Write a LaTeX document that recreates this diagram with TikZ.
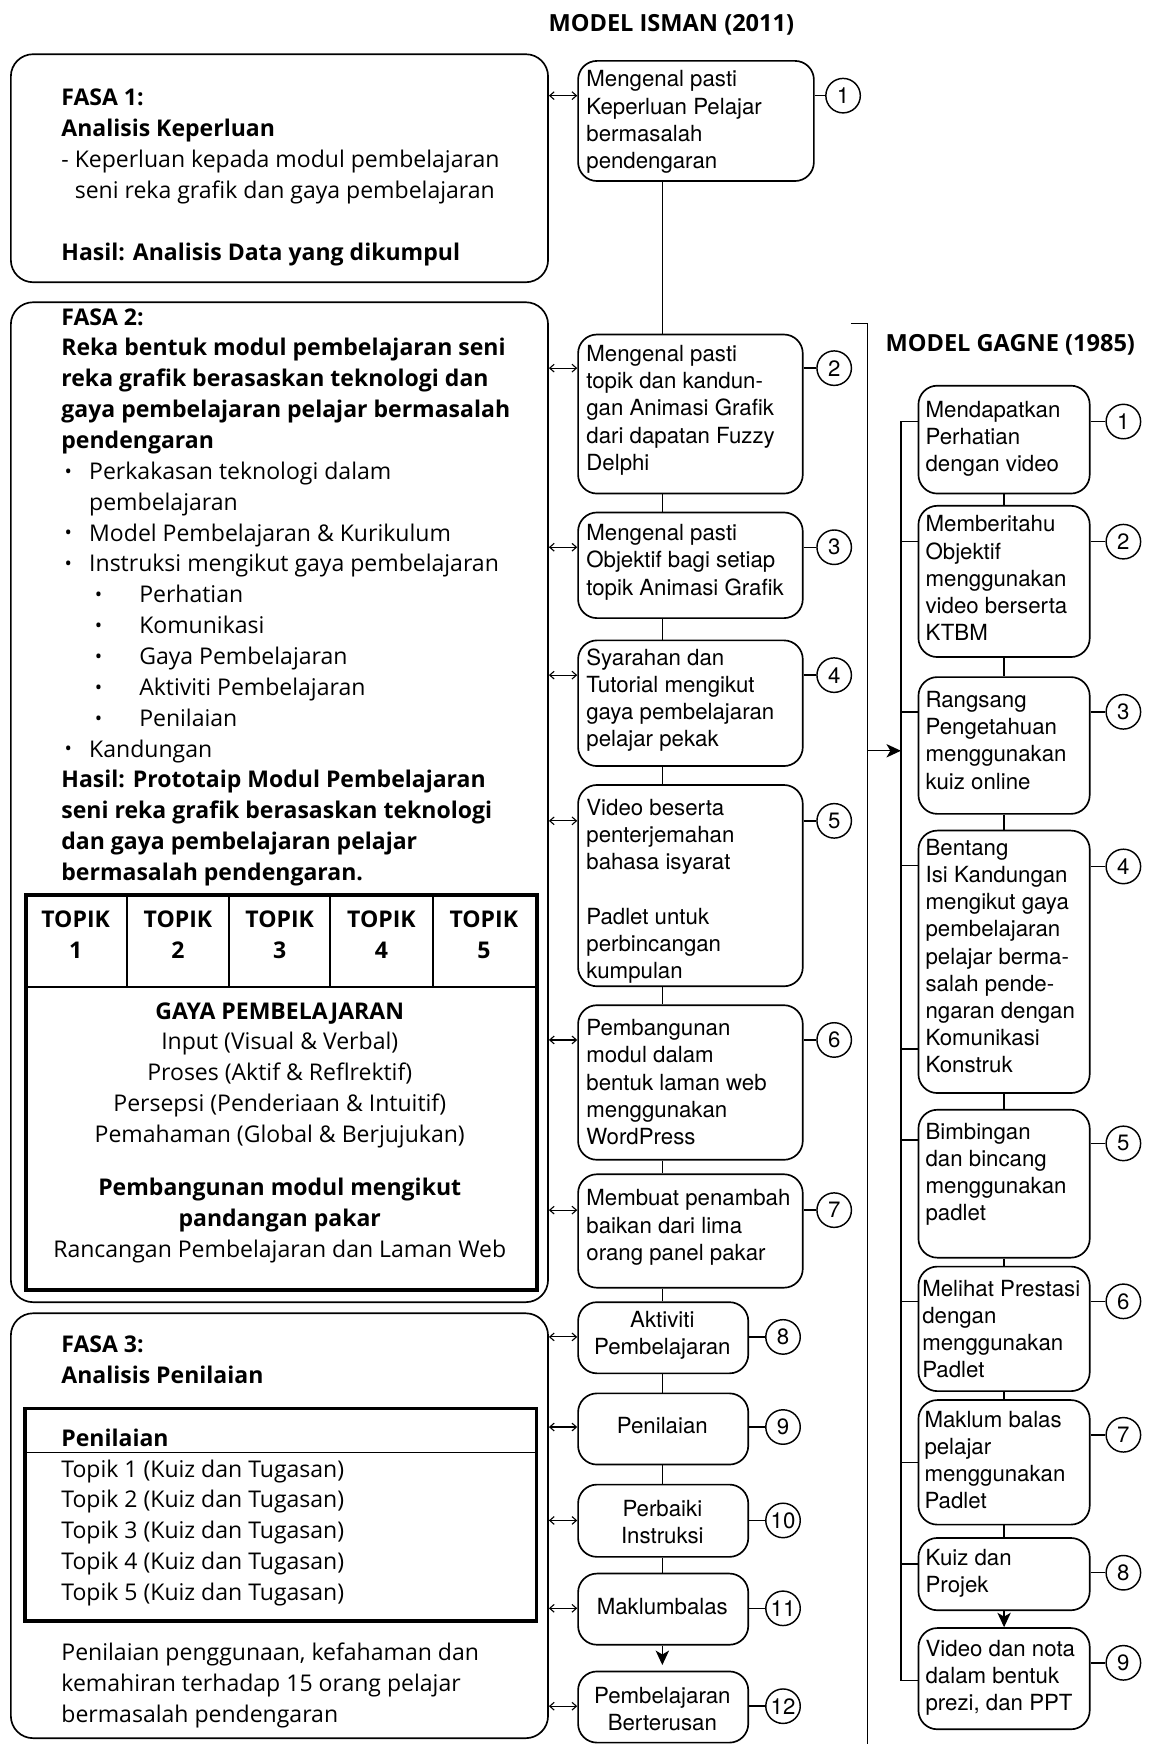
\documentclass[tikz,border=0pt]{standalone}
\usepackage{fontspec}
\usepackage{graphicx}
\setmainfont{TeX Gyre Heros}
\newfontfamily\humsans{Open Sans}
\usetikzlibrary{arrows.meta}

% invisible strut that fixes the first baseline 20pt below a node's top
\newcommand\fr{\rule{0pt}{20pt}}
% small list bullet and the indents of the phase-2 outline
\newcommand\dotmark{\raisebox{0.1ex}{\scalebox{0.85}{•}}}
\newcommand\lvone{\hspace*{3pt}\makebox[22pt][l]{\dotmark}}
\newcommand\lvtwo{\hspace*{30pt}\makebox[40pt][l]{\dotmark}}
\newcommand\lvcont{\hspace*{25pt}}

\begin{document}
\begin{tikzpicture}[x=1pt,y=-1pt,
  phase/.style={draw, line width=1.5pt, rounded corners=20pt, minimum width=483pt,
    anchor=north west, inner sep=0pt},
  stepbox/.style={draw, line width=1.5pt, rounded corners=17pt, anchor=north west, inner sep=0pt},
  num/.style={circle, draw, line width=1.3pt, minimum size=31pt, inner sep=0pt,
    font=\fontsize{20}{20}\selectfont},
  bt/.style={anchor=north west, inner sep=0pt, align=left, font=\fontsize{20}{24.4}\selectfont},
  btc/.style={anchor=north, inner sep=0pt, align=center, font=\fontsize{20}{24.4}\selectfont},
  lt/.style={anchor=north west, inner sep=0pt, align=left,
    font=\humsans\fontsize{20.7}{27.75}\selectfont},
  ltc/.style={anchor=north, inner sep=0pt, align=center,
    font=\humsans\fontsize{20.7}{27.75}\selectfont},
  ttl/.style={anchor=base west, inner sep=0pt, font=\humsans\bfseries\fontsize{21.2}{26}\selectfont},
  link/.style={line width=1.3pt},
  dbl/.style={line width=1pt, {Straight Barb[length=4pt,width=7pt]}-{Straight Barb[length=4pt,width=7pt]}},
  flow/.style={line width=1.3pt, -{Stealth[length=13pt,width=12pt,inset=3.5pt]}},
]
\useasboundingbox (0,0) rectangle (1038,1568);

% ---------------- titles ----------------
\node[ttl] (tisman) at (493,28) {MODEL ISMAN (2011)};
\node[ttl] (tgagne) at (796,316) {MODEL GAGNE (1985)};

% ---------------- phase boxes ----------------
\node[phase, minimum height=205pt] (f1) at (9,48) {};
\node[phase, minimum height=899pt] (f2) at (9,271) {};
\node[phase, minimum height=382pt] (f3) at (9,1180) {};

\node[lt] (f1txt) at (55,75) {\fr\textbf{FASA 1:}\\
  \textbf{Analisis Keperluan}\\
  - Keperluan kepada modul pembelajaran\\
  \hphantom{- }seni reka grafik dan gaya pembelajaran\\[27.75pt]
  \textbf{Hasil: Analisis Data yang dikumpul}};

\node[lt] (f2txt) at (55,272) {\fr\textbf{FASA 2:}\\
  \textbf{Reka bentuk modul pembelajaran seni}\\
  \textbf{reka grafik berasaskan teknologi dan}\\
  \textbf{gaya pembelajaran pelajar bermasalah}\\
  \textbf{pendengaran}\\
  \lvone Perkakasan teknologi dalam\\
  \lvcont pembelajaran\\
  \lvone Model Pembelajaran \& Kurikulum\\
  \lvone Instruksi mengikut gaya pembelajaran\\
  \lvtwo Perhatian\\
  \lvtwo Komunikasi\\
  \lvtwo Gaya Pembelajaran\\
  \lvtwo Aktiviti Pembelajaran\\
  \lvtwo Penilaian\\
  \lvone Kandungan\\
  \textbf{Hasil: Prototaip Modul Pembelajaran}\\
  \textbf{seni reka grafik berasaskan teknologi}\\
  \textbf{dan gaya pembelajaran pelajar}\\
  \textbf{bermasalah pendengaran.}};

% topic / learning-style table
\node[draw, line width=3.5pt, minimum width=459pt, minimum height=355pt,
  anchor=north west, inner sep=0pt] (tab) at (22,803) {};
\draw[line width=1.8pt] (tab.west |- 0,887) -- (tab.east |- 0,887);
\foreach \cx in {114,206,297,389}
  \draw[line width=1.8pt] (\cx,803) -- (\cx,887);
\foreach \cx/\k in {68/1,160/2,251.5/3,343/4,435/5}
  \node[ltc, font=\humsans\bfseries\fontsize{20.7}{27.75}\selectfont] (topik\k) at (\cx,814) {\fr TOPIK\\\k};
\node[ltc] (gaya) at (251.5,896) {\fr\textbf{GAYA PEMBELAJARAN}\\
  Input (Visual \& Verbal)\\
  Proses (Aktif \& Reflrektif)\\
  Persepsi (Penderiaan \& Intuitif)\\
  Pemahaman (Global \& Berjujukan)\\[20.25pt]
  \textbf{Pembangunan modul mengikut}\\
  \textbf{pandangan pakar}\\
  Rancangan Pembelajaran dan Laman Web};

\node[lt] (f3txt) at (55,1196) {\fr\textbf{FASA 3:}\\\textbf{Analisis Penilaian}};
\node[draw, line width=3pt, minimum width=460pt, minimum height=191pt,
  anchor=north west, inner sep=0pt] (pen) at (21,1265) {};
\draw[line width=1.5pt] (pen.west |- 0,1306) -- (pen.east |- 0,1306);
\node[lt] (pentxt) at (55,1280) {\fr\textbf{Penilaian}\\
  Topik 1 (Kuiz dan Tugasan)\\
  Topik 2 (Kuiz dan Tugasan)\\
  Topik 3 (Kuiz dan Tugasan)\\
  Topik 4 (Kuiz dan Tugasan)\\
  Topik 5 (Kuiz dan Tugasan)};
\node[lt] (f3end) at (55,1473) {\fr Penilaian penggunaan, kefahaman dan\\
  kemahiran terhadap 15 orang pelajar\\
  bermasalah pendengaran};

% ---------------- Isman steps ----------------
\node[stepbox, minimum width=212pt, minimum height=108pt] (i1) at (519,54) {};
\node[stepbox, minimum width=202pt, minimum height=143pt] (i2) at (519,300) {};
\node[stepbox, minimum width=202pt, minimum height=95pt] (i3) at (519,460) {};
\node[stepbox, minimum width=202pt, minimum height=113pt] (i4) at (519,575) {};
\node[stepbox, minimum width=202pt, minimum height=181pt] (i5) at (519,705) {};
\node[stepbox, minimum width=202pt, minimum height=139pt] (i6) at (519,903) {};
\node[stepbox, minimum width=202pt, minimum height=102pt] (i7) at (519,1055) {};
\node[stepbox, minimum width=153pt, minimum height=64pt] (i8) at (519,1170) {};
\node[stepbox, minimum width=153pt, minimum height=64pt] (i9) at (519,1252) {};
\node[stepbox, minimum width=153pt, minimum height=65pt] (i10) at (519,1334) {};
\node[stepbox, minimum width=153pt, minimum height=64pt] (i11) at (519,1414) {};
\node[stepbox, minimum width=153pt, minimum height=64pt] (i12) at (519,1502) {};

\node[bt] (it1) at (527,58) {\fr Mengenal pasti\\Keperluan Pelajar\\bermasalah\\pendengaran};
\node[bt] (it2) at (527,305) {\fr Mengenal pasti\\topik dan kandun-\\gan Animasi Grafik\\dari dapatan Fuzzy\\Delphi};
\node[bt] (it3) at (527,466) {\fr Mengenal pasti\\Objektif bagi setiap\\topik Animasi Grafik};
\node[bt] (it4) at (527,578) {\fr Syarahan dan\\Tutorial mengikut\\gaya pembelajaran\\pelajar pekak};
\node[bt] (it5) at (527,713) {\fr Video beserta\\penterjemahan\\bahasa isyarat\\[24.4pt]Padlet untuk\\perbincangan\\kumpulan};
\node[bt] (it6) at (527,911) {\fr Pembangunan\\modul dalam\\bentuk laman web\\menggunakan\\WordPress};
\node[bt] (it7) at (527,1064) {\fr Membuat penambah\\baikan dari lima\\orang panel pakar};
\node[btc] (it8) at (595.5,1173) {\fr Aktiviti\\Pembelajaran};
\node[btc] (it9) at (595.5,1269) {\fr Penilaian};
\node[btc] (it10) at (595.5,1343) {\fr Perbaiki\\Instruksi};
\node[btc] (it11) at (595.5,1431) {\fr Maklumbalas};
\node[btc] (it12) at (595.5,1511) {\fr Pembelajaran\\Berterusan};

\node[num] (ic1) at (758,86) {1};
\node[num] (ic2) at (750,331) {2};
\node[num] (ic3) at (750,492) {3};
\node[num] (ic4) at (750,607) {4};
\node[num] (ic5) at (750,738) {5};
\node[num] (ic6) at (750,935) {6};
\node[num] (ic7) at (750,1088) {7};
\node[num] (ic8) at (704,1202) {8};
\node[num] (ic9) at (704,1283) {9};
\node[num] (ic10) at (704,1367) {10};
\node[num] (ic11) at (704,1446) {11};
\node[num] (ic12) at (704,1534) {12};

\foreach \k in {1,...,12}
  \draw[link] (i\k.east |- ic\k) -- (ic\k);

% links back to the phases
\draw[dbl] (f1.east |- ic1) -- (i1.west |- ic1);
\foreach \k in {2,...,7}
  \draw[dbl] (f2.east |- ic\k) -- (i\k.west |- ic\k);
\foreach \k in {8,...,12}
  \draw[dbl] (f3.east |- ic\k) -- (i\k.west |- ic\k);

% Isman spine
\coordinate (ispine) at (595.5,0);
\foreach \a/\b in {i1/i2,i2/i3,i3/i4,i4/i5,i5/i6,i6/i7,i7/i8,i8/i9,i9/i10,i10/i11}
  \draw[link] (\a.south -| ispine) -- (\b.north -| ispine);
\draw[flow, shorten >=5pt] (i11.south -| ispine) -- (i12.north -| ispine);

% ---------------- Gagne events ----------------
\node[stepbox, minimum width=154pt, minimum height=97pt] (g1) at (825,346) {};
\node[stepbox, minimum width=154pt, minimum height=136pt] (g2) at (825,454) {};
\node[stepbox, minimum width=154pt, minimum height=123pt] (g3) at (825,608) {};
\node[stepbox, minimum width=154pt, minimum height=236pt] (g4) at (825,746) {};
\node[stepbox, minimum width=154pt, minimum height=133pt] (g5) at (825,997) {};
\node[stepbox, minimum width=154pt, minimum height=112pt] (g6) at (825,1138) {};
\node[stepbox, minimum width=154pt, minimum height=112pt] (g7) at (825,1258) {};
\node[stepbox, minimum width=154pt, minimum height=65pt] (g8) at (825,1382) {};
\node[stepbox, minimum width=154pt, minimum height=91pt] (g9) at (825,1463) {};

\node[bt] (gt1) at (832,355) {\fr Mendapatkan\\Perhatian\\dengan video};
\node[bt] (gt2) at (832,458) {\fr Memberitahu\\Objektif\\menggunakan\\video berserta\\KTBM};
\node[bt] (gt3) at (832,616) {\fr Rangsang\\Pengetahuan\\menggunakan\\kuiz online};
\node[bt] (gt4) at (832,749) {\fr Bentang\\Isi Kandungan\\mengikut gaya\\pembelajaran\\pelajar berma-\\salah pende-\\ngaran dengan\\Komunikasi\\Konstruk};
\node[bt] (gt5) at (832,1004) {\fr Bimbingan\\dan bincang\\menggunakan\\padlet};
\node[bt] (gt6) at (829,1145) {\fr Melihat Prestasi\\dengan\\menggunakan\\Padlet};
\node[bt] (gt7) at (831,1263) {\fr Maklum balas\\pelajar\\menggunakan\\Padlet};
\node[bt] (gt8) at (832,1387) {\fr Kuiz dan\\Projek};
\node[bt] (gt9) at (832,1469) {\fr Video dan nota\\dalam bentuk\\prezi, dan PPT};

\node[num] (gc1) at (1010,379) {1};
\node[num] (gc2) at (1010,487) {2};
\node[num] (gc3) at (1010,640) {3};
\node[num] (gc4) at (1010,779) {4};
\node[num] (gc5) at (1010,1028) {5};
\node[num] (gc6) at (1010,1170) {6};
\node[num] (gc7) at (1010,1290) {7};
\node[num] (gc8) at (1010,1414) {8};
\node[num] (gc9) at (1010,1495) {9};

\foreach \k in {1,...,9}
  \draw[link] (g\k.east |- gc\k) -- (gc\k);

\foreach \a/\b in {g1/g2,g2/g3,g3/g4,g4/g5,g5/g6,g6/g7,g7/g8}
  \draw[link] (\a.south) -- (\b.north);
\draw[flow] (g8.south) -- (g9.north);

% rail on the left of the Gagne events
\coordinate (railtop) at (810,379);
\coordinate (railbot) at (810,1511);
\draw[link] (g1.west |- railtop) -- (railtop) -- (railbot) -- (g9.west |- railbot);
\foreach \yy/\b in {487/g2,640/g3,778/g4,943/g4,1025/g5,1170/g6,1315/g7,1406/g8}
  \draw[link] (railtop |- 0,\yy) -- (\b.west |- 0,\yy);

% bracket joining the two models
\coordinate (brtick) at (765,291);
\coordinate (brtop) at (780,291);
\coordinate (brbot) at (780,1568);
\draw[link] (brtick) -- (brtop) -- (brbot);
\draw[flow] (brtop |- 0,675) -- (railtop |- 0,675);

\end{tikzpicture}
\end{document}
